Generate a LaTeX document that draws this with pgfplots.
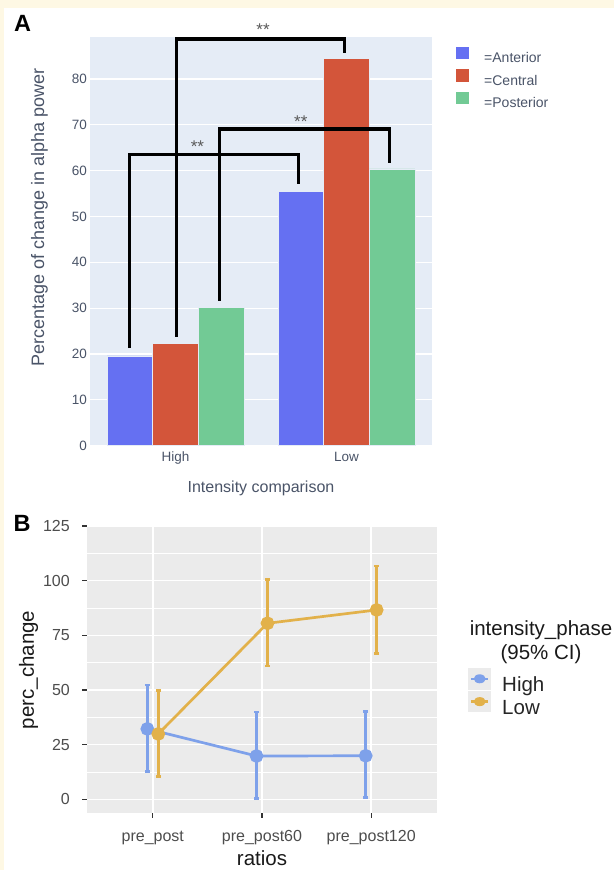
\documentclass[border=0pt]{standalone}
\usepackage{pgfplots}
\usepackage{pgfplotstable}
\pgfplotsset{compat=1.18}
\usepackage{fontspec}
\setmainfont{Liberation Sans}
\definecolor{cream}{HTML}{FEF8E4}
\definecolor{plotbgA}{HTML}{E5ECF6}
\definecolor{txtA}{HTML}{4A5468}
\definecolor{ant}{HTML}{6570F2}
\definecolor{cen}{HTML}{D3553A}
\definecolor{pos}{HTML}{72CA95}
\definecolor{bgB}{HTML}{EBEBEB}
\definecolor{hiB}{HTML}{7EA1EA}
\definecolor{loB}{HTML}{E2B14A}
\definecolor{txtB}{HTML}{4D4D4D}

\pgfplotstableread{
x ant cen pos
0 19.6 22.3 30.2
1 55.4 84.5 60.4
}\barsA

\pgfplotstableread{
x y lo hi
0.95 32.2 12.6 52.3
1.95 19.8 0.4 39.9
2.95 19.9 0.7 40.2
}\highB

\pgfplotstableread{
x y lo hi
1.05 29.9 10.3 49.7
2.05 80.5 61.0 100.6
3.05 86.6 66.8 106.7
}\lowB

\begin{document}
\begin{tikzpicture}
\path[use as bounding box] (0pt,0pt) rectangle (614pt,870pt);
\clip (0pt,0pt) rectangle (614pt,870pt);
\fill[cream] (0pt,0pt) rectangle (614pt,870pt);
\fill[white] (4pt,0pt) rectangle (614pt,862pt);
\node[font=\bfseries\fontsize{23.5}{26}\selectfont, inner sep=0pt] at (22.5pt,846.5pt) {A};
\node[font=\bfseries\fontsize{23.5}{26}\selectfont, inner sep=0pt] at (22pt,347pt) {B};

% ---------------- Panel A ----------------
\begin{axis}[
  at={(90pt,424.3pt)}, anchor=south west,
  scale only axis, width=342pt, height=408.7pt,
  xmin=-0.5, xmax=1.5, ymin=0, ymax=89.16,
  clip=false,
  axis background/.style={fill=plotbgA},
  axis line style={draw=none},
  major tick length=0pt, minor tick length=0pt,
  ytick={0,10,...,80},
  xtick={0,1}, xticklabels={High,Low},
  ymajorgrids, major grid style={white, line width=1.2pt},
  /pgf/number format/assume math mode=true,
  yticklabel style={anchor=east, inner sep=0pt, xshift=-3pt, font=\fontsize{13.5}{15}\selectfont, text=txtA},
  xticklabel style={anchor=base, inner sep=0pt, yshift=-15.8pt, font=\fontsize{13.5}{15}\selectfont, text=txtA},
  xlabel={Intensity comparison},
  xlabel style={at={(axis description cs:0.5,-0.1133)}, anchor=base, inner sep=0pt, font=\fontsize{16}{18}\selectfont, text=txtA},
  ylabel={Percentage of change in alpha power},
  ylabel style={at={(axis description cs:-0.1477,0.5584)}, anchor=center, inner sep=0pt, font=\fontsize{18}{20}\selectfont, text=txtA},
  legend style={at={(axis description cs:1.0693,0.9884)}, anchor=north west, draw=none, fill=none,
    inner sep=0pt, row sep=0pt, column sep=0pt, nodes={inner sep=0pt},
    font=\fontsize{14}{16}\selectfont, text=txtA},
  legend cell align=left,
  legend image code/.code={\path[draw=none,fill=none] (0pt,-6.25pt) rectangle (28.3pt,16.25pt);
    \fill[#1, draw=none] (0pt,-1.3pt) rectangle (12.6pt,11.3pt);},
]
\addplot[ybar, bar width=45.6pt, bar shift=-45.6pt, fill=ant, draw=plotbgA, line width=0.5pt] table[x=x,y=ant] \barsA;
\addlegendentry{=Anterior}
\addplot[ybar, bar width=45.6pt, bar shift=0pt, fill=cen, draw=plotbgA, line width=0.5pt] table[x=x,y=cen] \barsA;
\addlegendentry{=Central}
\addplot[ybar, bar width=45.6pt, bar shift=45.6pt, fill=pos, draw=plotbgA, line width=0.5pt] table[x=x,y=pos] \barsA;
\addlegendentry{=Posterior}

\addplot[black, line width=3.2pt, line join=miter, forget plot] coordinates {(-0.27,21.3) (-0.27,63.6) (0.72,63.6) (0.72,57.1)};
\addplot[black, line width=3.2pt, line join=miter, forget plot] coordinates {(0.004,23.8) (0.004,88.7) (0.99,88.7) (0.99,85.6)};
\addplot[black, line width=3.2pt, line join=miter, forget plot] coordinates {(0.255,31.6) (0.255,69.1) (1.25,69.1) (1.25,61.6)};

\node[font=\fontsize{17}{19}\selectfont, text=black!65, yshift=-3.5pt] at (axis cs:0.128,66.0) {**};
\node[font=\fontsize{17}{19}\selectfont, text=black!65, yshift=-3.5pt] at (axis cs:0.512,91.6) {**};
\node[font=\fontsize{17}{19}\selectfont, text=black!65, yshift=-3.5pt] at (axis cs:0.733,71.4) {**};
\end{axis}

% ---------------- Panel B ----------------
\begin{axis}[
  at={(87.3pt,57.3pt)}, anchor=south west,
  scale only axis, width=349.4pt, height=287.7pt,
  xmin=0.4, xmax=3.6, ymin=-6.13, ymax=125.45,
  clip mode=individual,
  axis background/.style={fill=bgB},
  axis line style={draw=none},
  tick pos=left,
  tick align=outside, major tick length=5pt, minor tick length=0pt,
  tick style={color=black!80, line width=1.1pt},
  ytick={0,25,...,125},
  minor ytick={12.5,37.5,62.5,87.5,112.5},
  xtick={1,2,3}, xticklabels={pre\_post,pre\_post60,pre\_post120},
  xmajorgrids, ymajorgrids, yminorgrids,
  major grid style={white, line width=1.5pt},
  minor grid style={white, line width=0.75pt},
  /pgf/number format/assume math mode=true,
  yticklabel style={anchor=east, inner sep=0pt, xshift=-12.3pt, font=\fontsize{16}{18}\selectfont, text=txtB},
  xticklabel style={anchor=base, inner sep=0pt, yshift=-23.3pt, font=\fontsize{16}{18}\selectfont, text=txtB},
  xlabel={ratios},
  xlabel style={at={(axis description cs:0.5,-0.1818)}, anchor=base, inner sep=0pt, font=\fontsize{20.5}{23}\selectfont, text=black!90},
  ylabel={perc\_change},
  ylabel style={at={(axis description cs:-0.1683,0.496)}, anchor=center, inner sep=0pt, font=\fontsize{20.5}{23}\selectfont, text=black!90},
  legend style={at={(axis description cs:1.0896,0.5035)}, anchor=north west, draw=none, fill=none,
    inner sep=0pt, row sep=-2.5pt, column sep=0pt, nodes={inner sep=0pt},
    font=\fontsize{20.5}{23}\selectfont, text=black!85},
  legend cell align=left,
]
\addplot[hiB, line width=2.7pt, mark=*, mark size=5.5pt, mark options={solid, draw=none, fill=hiB},
  legend image code/.code={\fill[bgB, draw=none] (0pt,-4.35pt) rectangle (23pt,17.15pt);
    \draw[hiB, line width=2.5pt] (3pt,6.4pt) -- (20pt,6.4pt);
    \fill[hiB, draw=none] (11.5pt,6.4pt) ellipse (6pt and 4.5pt);
    \path[draw=none, fill=none] (0pt,0pt) rectangle (34pt,0pt);},
  error bars/.cd, y dir=both, y explicit,
  error bar style={line width=2.7pt, hiB},
  error mark options={rotate=90, mark size=2.4pt, line width=2.7pt, hiB}]
  table[x=x, y=y, y error plus expr=\thisrow{hi}-\thisrow{y}, y error minus expr=\thisrow{y}-\thisrow{lo}] \highB;
\addlegendentry{High}
\addplot[loB, line width=2.7pt, mark=*, mark size=5.5pt, mark options={solid, draw=none, fill=loB},
  legend image code/.code={\fill[bgB, draw=none] (0pt,-4.35pt) rectangle (23pt,17.15pt);
    \draw[loB, line width=2.5pt] (3pt,6.4pt) -- (20pt,6.4pt);
    \fill[loB, draw=none] (11.5pt,6.4pt) ellipse (6pt and 4.5pt);
    \path[draw=none, fill=none] (0pt,0pt) rectangle (34pt,0pt);},
  error bars/.cd, y dir=both, y explicit,
  error bar style={line width=2.7pt, loB},
  error mark options={rotate=90, mark size=2.4pt, line width=2.7pt, loB}]
  table[x=x, y=y, y error plus expr=\thisrow{hi}-\thisrow{y}, y error minus expr=\thisrow{y}-\thisrow{lo}] \lowB;
\addlegendentry{Low}

\node[font=\fontsize{20.5}{23}\selectfont, text=black!90, align=center, inner sep=0pt] at (axis description cs:1.2985,0.635) {intensity\_phase};
\node[font=\fontsize{20.5}{23}\selectfont, text=black!90, align=center, inner sep=0pt] at (axis description cs:1.2985,0.552) {(95\% CI)};
\end{axis}
\end{tikzpicture}
\end{document}
